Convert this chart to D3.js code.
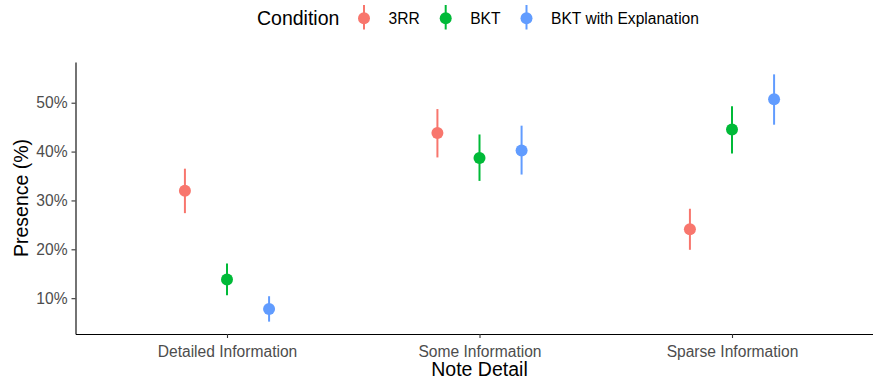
<!DOCTYPE html>
<html>
<head>
<meta charset="utf-8">
<script src="https://cdn.jsdelivr.net/npm/d3@7"></script>
<style>
  body { margin: 0; background: #fff; }
  svg { display: block; font-family: "Liberation Sans", Arial, Helvetica, sans-serif; }
</style>
</head>
<body>
<div id="chart"></div>
<script>
// categories and series
const noteDetails = ['Detailed Information', 'Some Information', 'Sparse Information'];
const conditions = ['3RR', 'BKT', 'BKT with Explanation'];
const colors = ['#F8766D', '#00BA38', '#619CFF'];

// mean, lower and upper per condition, one value per note detail
const means = {
    '3RR': [0.320, 0.438, 0.241],
    'BKT': [0.138, 0.387, 0.445],
    'BKT with Explanation': [0.078, 0.402, 0.507]
};
const lowers = {
    '3RR': [0.274, 0.388, 0.199],
    'BKT': [0.106, 0.340, 0.396],
    'BKT with Explanation': [0.052, 0.353, 0.455]
};
const uppers = {
    '3RR': [0.365, 0.487, 0.283],
    'BKT': [0.171, 0.435, 0.493],
    'BKT with Explanation': [0.104, 0.453, 0.558]
};
const yTicks = [0.1, 0.2, 0.3, 0.4, 0.5];

const width = 873;
const height = 381;
const panel = { left: 75.5, right: 883.5, top: 62, bottom: 334 };

const svg = d3.select('#chart')
    .append('svg')
    .attr('width', width)
    .attr('height', height);

// flatten into rows for drawing
const rows = [];
conditions.forEach((c, ci) => {
    noteDetails.forEach((n, ni) => {
        rows.push({ condition: c, ci: ci, detail: n, mean: means[c][ni], lo: lowers[c][ni], hi: uppers[c][ni] });
    });
});

// x: discrete with ggplot-like 0.6 expansion
const x = d3.scalePoint()
    .domain(noteDetails)
    .range([panel.left, panel.right])
    .padding(0.6);
const dodge = d3.scalePoint()
    .domain(conditions)
    .range([-x.step() * 0.5 / 3, x.step() * 0.5 / 3]);

// y: data extent with 5% expansion
const yMin = d3.min(rows, d => d.lo);
const yMax = d3.max(rows, d => d.hi);
const pad = (yMax - yMin) * 0.05;
const y = d3.scaleLinear()
    .domain([yMin - pad, yMax + pad])
    .range([panel.bottom, panel.top]);

const color = d3.scaleOrdinal().domain(conditions).range(colors);

// axes
const xAxis = svg.append('g')
    .attr('transform', `translate(0,${panel.bottom})`)
    .call(d3.axisBottom(x).tickSize(4).tickSizeOuter(0).tickPadding(5));
const yAxis = svg.append('g')
    .attr('transform', `translate(${panel.left},0)`)
    .call(d3.axisLeft(y).tickValues(yTicks).tickFormat(d3.format('.0%')).tickSize(4).tickSizeOuter(0).tickPadding(4));

[xAxis, yAxis].forEach(ax => {
    ax.select('.domain').attr('stroke', '#000').attr('stroke-width', 1.1);
    ax.selectAll('.tick line').attr('stroke', '#333').attr('stroke-width', 1.1);
    ax.selectAll('.tick text')
        .attr('fill', '#4d4d4d')
        .style('font-size', '15.6px')
        .style('font-family', '"Liberation Sans", Arial, sans-serif');
});
xAxis.selectAll('.tick text').attr('dy', '0.9em');

// axis titles
svg.append('text')
    .attr('x', (panel.left + panel.right) / 2)
    .attr('y', 376)
    .attr('text-anchor', 'middle')
    .style('font-size', '19.5px')
    .text('Note Detail');

svg.append('text')
    .attr('transform', `translate(27.5,${(panel.top + panel.bottom) / 2}) rotate(-90)`)
    .attr('text-anchor', 'middle')
    .style('font-size', '19.5px')
    .text('Presence (%)');

// error bars and points
const marks = svg.append('g');
marks.selectAll('.err')
    .data(rows)
    .enter()
    .append('line')
    .attr('class', 'err')
    .attr('x1', d => x(d.detail) + dodge(d.condition))
    .attr('x2', d => x(d.detail) + dodge(d.condition))
    .attr('y1', d => y(d.lo))
    .attr('y2', d => y(d.hi))
    .attr('stroke', d => color(d.condition))
    .attr('stroke-width', 2);

marks.selectAll('.pt')
    .data(rows)
    .enter()
    .append('circle')
    .attr('class', 'pt')
    .attr('cx', d => x(d.detail) + dodge(d.condition))
    .attr('cy', d => y(d.mean))
    .attr('r', 6)
    .attr('fill', d => color(d.condition));

// legend on top
const legend = svg.append('g');
legend.append('text')
    .attr('x', 257)
    .attr('y', 25)
    .style('font-size', '19.5px')
    .text('Condition');

const keyX = [364, 445.7, 526.5];
const key = legend.selectAll('.key')
    .data(conditions)
    .enter()
    .append('g')
    .attr('class', 'key')
    .attr('transform', (d, i) => `translate(${keyX[i]},0)`);

key.append('line')
    .attr('y1', 5)
    .attr('y2', 29.5)
    .attr('stroke', d => color(d))
    .attr('stroke-width', 2);
key.append('circle')
    .attr('cy', 18.3)
    .attr('r', 6)
    .attr('fill', d => color(d));
key.append('text')
    .attr('x', 24.5)
    .attr('y', 24)
    .style('font-size', '15.6px')
    .text(d => d);
</script>
</body>
</html>
